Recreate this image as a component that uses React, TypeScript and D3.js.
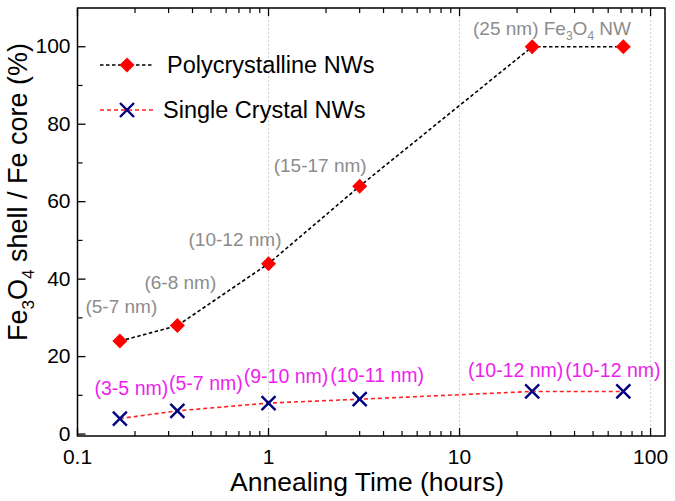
import React from "react";
import * as d3 from "d3";

const hours = [1 / 6, 1 / 3, 1, 3, 24, 72];
const polyValues = [24, 28, 44, 64, 100, 100];
const singleValues = [4, 6, 8, 9, 11, 11];
const polyLabels = ["(5-7 nm)", "(6-8 nm)", "(10-12 nm)", "(15-17 nm)", "", ""];
const singleLabels = ["(3-5 nm)", "(5-7 nm)", "(9-10 nm)", "(10-11 nm)", "(10-12 nm)", "(10-12 nm)"];
const xMajorTicks = [0.1, 1, 10, 100];
const xTickLabels = ["0.1", "1", "10", "100"];
const yMajorTicks = [0, 20, 40, 60, 80, 100];
const yMinorTicks = [10, 30, 50, 70, 90];
const gridValues = [1, 10, 100];

const W = 675, H = 501;
const L = 77.5, R = 665, T = 8, B = 436;
const FONT = "'Liberation Sans', Arial, sans-serif";

export default function App() {
  const x = d3.scaleLog().domain([0.1, 119]).range([L, R]);
  const y = d3.scaleLinear().domain([-0.5, 110]).range([B, T]);
  const xMinor: number[] = [];
  [0.1, 1, 10].forEach((d) => {
    for (let k = 2; k <= 9; k++) xMinor.push(d * k);
  });
  const line = d3.line<number>().x((_, i) => x(hours[i])).y((v) => y(v));
  const diamond = (cx: number, cy: number, s: number) =>
    `M${cx},${cy - s}L${cx + s},${cy}L${cx},${cy + s}L${cx - s},${cy}Z`;
  const cross = (cx: number, cy: number, s: number) =>
    `M${cx - s},${cy - s}L${cx + s},${cy + s}M${cx - s},${cy + s}L${cx + s},${cy - s}`;

  // annotation offsets (pixels) relative to the data point
  const polyOffsets = [
    [1.5, -28],
    [3, -37],
    [-33.5, -17.5],
    [-39.5, -14.5],
  ];
  const singleOffsets = [
    [11.5, -23.5],
    [28.5, -21],
    [17.5, -20],
    [17.5, -17.5],
    [-16.5, -14.5],
    [-10.5, -14.5],
  ];

  return (
    <svg width={W} height={H} style={{ position: "absolute", left: 0, top: 0, background: "#fff" }} fontFamily={FONT}>
      <rect x={0} y={0} width={W} height={H} fill="#fff" />
      {/* grid */}
      {gridValues.map((g) => (
        <line key={g} x1={x(g)} x2={x(g)} y1={T} y2={B} stroke="#d0d0d0" strokeWidth={1} strokeDasharray="2,2" />
      ))}
      {/* axes frame */}
      <rect x={L} y={T} width={R - L} height={B - T} fill="none" stroke="#000" strokeWidth={1.5} />
      {/* x ticks bottom & top */}
      {xMajorTicks.map((t, i) => (
        <g key={"xm" + t}>
          <line x1={x(t)} x2={x(t)} y1={B} y2={B - 8} stroke="#000" strokeWidth={1.3} />
          <line x1={x(t)} x2={x(t)} y1={T} y2={T + 8} stroke="#000" strokeWidth={1.3} />
          <text x={x(t)} y={B + 28} textAnchor="middle" fontSize={21}>
            {xTickLabels[i]}
          </text>
        </g>
      ))}
      {xMinor.map((t) => (
        <g key={"xn" + t}>
          <line x1={x(t)} x2={x(t)} y1={B} y2={B - 5} stroke="#000" strokeWidth={1.2} />
          <line x1={x(t)} x2={x(t)} y1={T} y2={T + 5} stroke="#000" strokeWidth={1.2} />
        </g>
      ))}
      {/* y ticks */}
      {yMajorTicks.map((t) => (
        <g key={"ym" + t}>
          <line x1={L} x2={L + 8} y1={y(t)} y2={y(t)} stroke="#000" strokeWidth={1.3} />
          <text x={L - 7} y={y(t) + 6.5} textAnchor="end" fontSize={21}>
            {t}
          </text>
        </g>
      ))}
      {yMinorTicks.map((t) => (
        <line key={"yn" + t} x1={L} x2={L + 5} y1={y(t)} y2={y(t)} stroke="#000" strokeWidth={1.2} />
      ))}
      {/* axis titles */}
      <text x={367} y={491} textAnchor="middle" fontSize={26.5}>
        Annealing Time (hours)
      </text>
      <text transform={`translate(27,192) rotate(-90)`} textAnchor="middle" fontSize={27}>
        Fe<tspan fontSize={17} dy={7}>3</tspan>
        <tspan dy={-7}>O</tspan>
        <tspan fontSize={17} dy={7}>4</tspan>
        <tspan dy={-7}> shell / Fe core (%)</tspan>
      </text>
      {/* lines */}
      <path d={line(singleValues) || ""} fill="none" stroke="#ff2020" strokeWidth={1.6} strokeDasharray="4,3" />
      <path d={line(polyValues) || ""} fill="none" stroke="#000" strokeWidth={1.6} strokeDasharray="3.5,2.5" />
      {/* markers */}
      {polyValues.map((v, i) => (
        <path key={"pd" + i} d={diamond(x(hours[i]), y(v), 7.5)} fill="#ff0000" />
      ))}
      {singleValues.map((v, i) => (
        <path key={"sx" + i} d={cross(x(hours[i]), y(v), 7)} stroke="#000080" strokeWidth={2.4} fill="none" />
      ))}
      {/* annotations */}
      {polyLabels.map((lab, i) =>
        lab ? (
          <text key={"pl" + i} x={x(hours[i]) + polyOffsets[i][0]} y={y(polyValues[i]) + polyOffsets[i][1]} textAnchor="middle" fontSize={19} fill="#8c8c8c">
            {lab}
          </text>
        ) : null
      )}
      <text x={473} y={35} fontSize={19} fill="#8c8c8c">
        (25 nm) Fe<tspan fontSize={12} dy={5}>3</tspan>
        <tspan dy={-5}>O</tspan>
        <tspan fontSize={12} dy={5}>4</tspan>
        <tspan dy={-5}> NW</tspan>
      </text>
      {singleLabels.map((lab, i) => (
        <text key={"sl" + i} x={x(hours[i]) + singleOffsets[i][0]} y={y(singleValues[i]) + singleOffsets[i][1]} textAnchor="middle" fontSize={19.5} fill="#ee1eee">
          {lab}
        </text>
      ))}
      {/* legend */}
      <line x1={100} x2={153} y1={65} y2={65} stroke="#000" strokeWidth={1.6} strokeDasharray="3.5,2.5" />
      <path d={diamond(127, 65, 7.5)} fill="#ff0000" />
      <text x={167} y={73} fontSize={23.5}>
        Polycrystalline NWs
      </text>
      <line x1={100} x2={153} y1={110} y2={110} stroke="#ff2020" strokeWidth={1.6} strokeDasharray="4,3" />
      <path d={cross(127, 110, 7)} stroke="#000080" strokeWidth={2.4} fill="none" />
      <text x={163} y={118} fontSize={23.5}>
        Single Crystal NWs
      </text>
    </svg>
  );
}
